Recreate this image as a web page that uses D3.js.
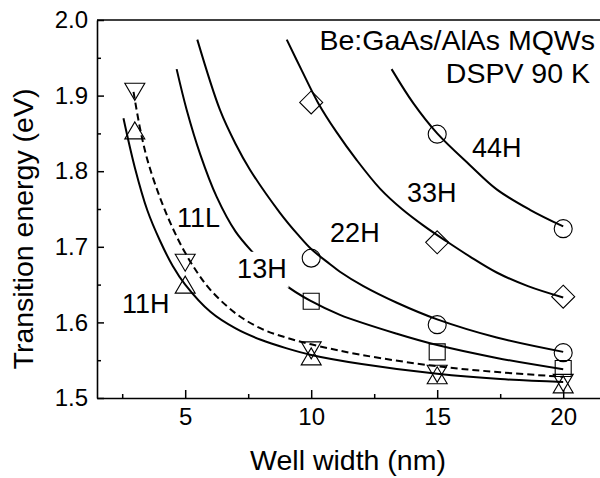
<!DOCTYPE html>
<html>
<head>
<meta charset="utf-8">
<script src="https://cdn.jsdelivr.net/npm/d3@7"></script>
<style>
  body { margin: 0; background: #fff; }
  svg { display: block; font-family: "Liberation Sans", Arial, sans-serif; }
</style>
</head>
<body>
<div id="chart"></div>
<script>
// measured transition energies (eV) vs well width (nm)
const wellWidths = [3, 5, 10, 15, 20];
const e11H = [1.854, 1.650, 1.555, 1.530, 1.518];
const e11L = [1.905, 1.679, 1.563, 1.532, 1.520];
const e13H = [null, null, 1.628, 1.561, 1.539];
const e22H = [null, null, 1.685, 1.597, 1.560];
const e33H = [null, null, 1.891, 1.706, 1.634];
const e44H = [null, null, null, 1.849, 1.724];

// calculated curves as [width, energy]
const fit11H = [[2.55, 1.870], [3.0, 1.805], [3.5, 1.748], [4.0, 1.708], [4.5, 1.675], [5.0, 1.650],
  [6.0, 1.614], [7.0, 1.592], [8.0, 1.577], [9.0, 1.566], [10.0, 1.557], [12.0, 1.545],
  [15.0, 1.532], [17.5, 1.525], [20.0, 1.521]];
const fit11L = [[2.95, 1.905], [3.2, 1.858], [3.5, 1.815], [4.0, 1.765], [4.5, 1.725], [5.0, 1.692],
  [5.5, 1.665], [6.0, 1.643], [7.0, 1.612], [8.0, 1.592], [9.0, 1.580], [10.0, 1.571],
  [12.0, 1.557], [15.0, 1.542], [17.5, 1.534], [20.0, 1.528]];
const fit13H = [[4.66, 1.935], [5.06, 1.881], [5.6, 1.822], [6.25, 1.766], [7.0, 1.720], [7.7, 1.692],
  [8.96, 1.650], [10.0, 1.628], [11.14, 1.610], [13.4, 1.585], [15.0, 1.570], [17.36, 1.553], [20.0, 1.538]];
const fit22H = [[5.48, 1.974], [6.38, 1.881], [7.0, 1.836], [7.57, 1.802], [8.76, 1.745], [9.5, 1.715],
  [10.0, 1.697], [10.75, 1.677], [11.14, 1.667], [12.07, 1.648], [13.4, 1.626], [15.0, 1.604],
  [17.36, 1.580], [20.0, 1.561]];
const fit33H = [[9.03, 1.974], [9.6, 1.935], [10.28, 1.890], [11.0, 1.852], [11.8, 1.815], [12.73, 1.777],
  [13.6, 1.750], [14.5, 1.727], [15.38, 1.707], [16.3, 1.687], [17.36, 1.666], [18.6, 1.648], [20.0, 1.633]];
const fit44H = [[13.19, 1.935], [14.05, 1.890], [15.0, 1.850], [16.3, 1.808], [17.36, 1.776],
  [18.68, 1.749], [20.0, 1.727]];

// curve labels: text, width, energy (baseline-left)
const curveLabels = [["11H", 2.49, 1.612], ["11L", 4.67, 1.726], ["13H", 7.06, 1.659],
  ["22H", 10.75, 1.706], ["33H", 13.8, 1.759], ["44H", 16.38, 1.819]];

const xTicks = [5, 10, 15, 20];
const xMinor = [2.5, 7.5, 12.5, 17.5];
const yTicks = [1.5, 1.6, 1.7, 1.8, 1.9, 2.0];
const yMinor = [1.55, 1.65, 1.75, 1.85, 1.95];

const width = 600, height = 478;
const margin = { top: 20, left: 97, bottom: 80 };

const svg = d3.select("#chart").append("svg")
    .attr("width", width)
    .attr("height", height);

const x = d3.scaleLinear().domain([1.5, 21.5]).range([margin.left, 601]);
const y = d3.scaleLinear().domain([1.5, 2.0]).range([height - margin.bottom, margin.top]);

const line = d3.line()
    .x(d => x(d[0]))
    .y(d => y(d[1]))
    .curve(d3.curveCatmullRom.alpha(0.5));

// fitted curves
[fit11H, fit13H, fit22H, fit33H, fit44H].forEach(pts => {
    svg.append("path")
        .attr("d", line(pts))
        .attr("fill", "none")
        .attr("stroke", "#000")
        .attr("stroke-width", 2);
});
svg.append("path")
    .attr("d", line(fit11L))
    .attr("fill", "none")
    .attr("stroke", "#000")
    .attr("stroke-width", 2)
    .attr("stroke-dasharray", "7,4");

// marker shapes
function markerPath(shape, cx, cy) {
    const p = d3.path();
    if (shape === "up") {
        p.moveTo(cx - 10, cy + 8.5); p.lineTo(cx + 10, cy + 8.5); p.lineTo(cx, cy - 8.5); p.closePath();
    } else if (shape === "down") {
        p.moveTo(cx - 10, cy - 8.5); p.lineTo(cx + 10, cy - 8.5); p.lineTo(cx, cy + 8.5); p.closePath();
    } else if (shape === "square") {
        p.rect(cx - 8, cy - 8, 16, 16);
    } else if (shape === "diamond") {
        p.moveTo(cx, cy - 11.5); p.lineTo(cx + 11.5, cy); p.lineTo(cx, cy + 11.5); p.lineTo(cx - 11.5, cy); p.closePath();
    } else {
        p.moveTo(cx + 9, cy); p.arc(cx, cy, 9, 0, 2 * Math.PI);
    }
    return p.toString();
}

const series = [
    { values: e11H, shape: "up" },
    { values: e11L, shape: "down" },
    { values: e13H, shape: "square" },
    { values: e22H, shape: "circle" },
    { values: e33H, shape: "diamond" },
    { values: e44H, shape: "circle" }
];

series.forEach(s => {
    const pts = wellWidths.map((w, i) => [w, s.values[i]]).filter(d => d[1] != null);
    svg.selectAll(null)
        .data(pts)
        .enter().append("path")
        .attr("d", d => markerPath(s.shape, x(d[0]), y(d[1])))
        .attr("fill", "none")
        .attr("stroke", "#000")
        .attr("stroke-width", 1.1);
});

// curve labels (13H sits on a white box that hides its curve)
curveLabels.forEach(([txt, lx, ly]) => {
    const t = svg.append("text")
        .attr("x", x(lx))
        .attr("y", y(ly))
        .attr("font-size", 27)
        .attr("fill", "#000")
        .text(txt);
    if (txt === "13H") {
        const b = t.node().getBBox();
        svg.insert("rect", "text")
            .attr("x", b.x - 2)
            .attr("y", b.y - 2)
            .attr("width", b.width + 4)
            .attr("height", b.height + 6)
            .attr("fill", "#fff");
    }
});

// annotation
svg.append("text")
    .attr("x", 595).attr("y", 50)
    .attr("text-anchor", "end")
    .attr("font-size", 28.5)
    .text("Be:GaAs/AlAs MQWs");
svg.append("text")
    .attr("x", 590).attr("y", 83)
    .attr("text-anchor", "end")
    .attr("font-size", 28.5)
    .text("DSPV 90 K");

// axes
svg.append("g")
    .attr("transform", `translate(0,${y(1.5)})`)
    .call(d3.axisBottom(x).tickValues(xTicks).tickSizeInner(-8).tickSizeOuter(0).tickPadding(10));
svg.append("g")
    .attr("transform", `translate(0,${y(1.5)})`)
    .call(d3.axisBottom(x).tickValues(xMinor).tickSizeInner(-4).tickSizeOuter(0).tickFormat(""))
    .select(".domain").remove();

svg.append("g")
    .attr("transform", `translate(${x(1.5)},0)`)
    .call(d3.axisLeft(y).tickValues(yTicks).tickSizeInner(-7).tickSizeOuter(0).tickPadding(9).tickFormat(d3.format(".1f")));
svg.append("g")
    .attr("transform", `translate(${x(1.5)},0)`)
    .call(d3.axisLeft(y).tickValues(yMinor).tickSizeInner(-4).tickSizeOuter(0).tickFormat(""))
    .select(".domain").remove();

svg.selectAll(".tick line").attr("stroke", "#000").attr("stroke-width", 1.5);
svg.selectAll(".domain").attr("stroke", "#000").attr("stroke-width", 1.6);
svg.selectAll(".tick text")
    .attr("font-family", "'Liberation Sans', Arial, sans-serif")
    .attr("font-size", 24)
    .attr("fill", "#000");

// top frame line
svg.append("line")
    .attr("x1", x(1.5)).attr("x2", x(21.5))
    .attr("y1", y(2.0)).attr("y2", y(2.0))
    .attr("stroke", "#000")
    .attr("stroke-width", 1.6);

// axis titles
svg.append("text")
    .attr("x", 348)
    .attr("y", 470)
    .attr("text-anchor", "middle")
    .attr("font-size", 28.5)
    .text("Well width (nm)");
svg.append("text")
    .attr("transform", `translate(33,229) rotate(-90)`)
    .attr("text-anchor", "middle")
    .attr("font-size", 28.5)
    .text("Transition energy (eV)");
</script>
</body>
</html>
